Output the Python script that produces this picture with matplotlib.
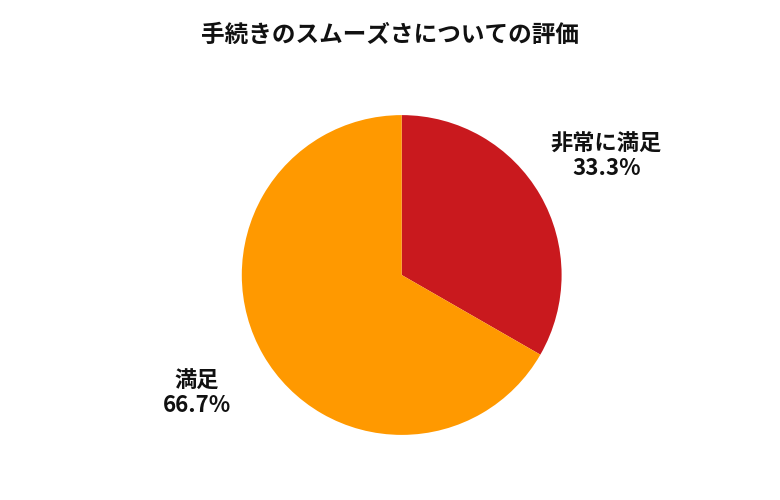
import matplotlib
matplotlib.use("Agg")
import matplotlib.pyplot as plt

plt.rcParams['font.family'] = ['Noto Sans CJK JP', 'DejaVu Sans']

categories = ['非常に満足', '満足']
values = [33.3, 66.7]
colors = ['#C9191E', '#FF9900']

fig = plt.figure(figsize=(7.8, 5), dpi=100)
ax = fig.add_axes([0.31, 0.13, 0.41, 0.64])
labels = [f"{c}\n{v}%" for c, v in zip(categories, values)]
wedges, texts = ax.pie(values, colors=colors, startangle=90, counterclock=False,
                       labels=labels, labeldistance=1.48,
                       textprops=dict(fontsize=16, fontweight='bold', color='#111111'))
for t in texts:
    t.set_horizontalalignment('center')
    t.set_verticalalignment('center')
    t.set_linespacing(1.1)
    t.set_clip_on(False)
ax.set_xlim(-1, 1)
ax.set_ylim(-1, 1)
ax.set_aspect('equal')

fig.text(0.5, 0.93, '手続きのスムーズさについての評価', ha='center', va='center',
         fontsize=17, fontweight='bold', color='#111111')

fig.savefig('out.png', dpi=100)
